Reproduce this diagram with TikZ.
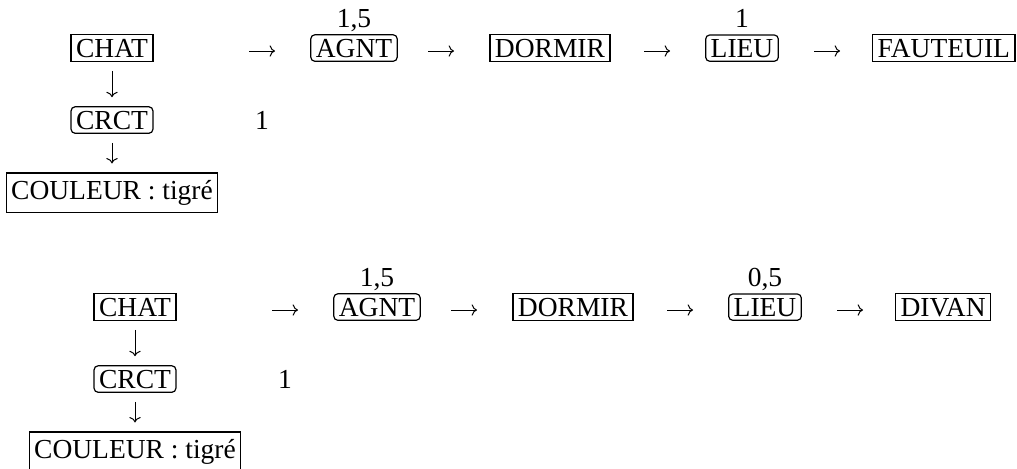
\documentclass[tikz,border=0pt]{standalone}
\usepackage{fontspec}
\setmainfont{Liberation Serif}
\usetikzlibrary{arrows.meta}
\begin{document}
\begin{tikzpicture}[x=0.5pt,y=-0.5pt,
  every node/.style={font=\fontsize{13.75}{16}\selectfont, inner sep=0pt},
  sqbox/.style={draw, line width=0.6pt, inner xsep=2.5pt, inner ysep=2pt, anchor=base},
  rbox/.style={sqbox, rounded corners=2pt},
  tallbox/.style={sqbox, text height=11pt, text depth=4.6pt},
  lbl/.style={anchor=base},
  harr/.style={line width=0.5pt, -{Computer Modern Rightarrow}},
  varr/.style={harr, shorten <=4.5pt, shorten >=4.5pt},
]
\useasboundingbox (0,0) rectangle (1017,468);

% ---------- first graph ----------
\node[sqbox]   (chatA) at (112,57) {CHAT};
\node[rbox]    (crctA) at (112,129) {CRCT};
\node[tallbox] (coulA) at (112,199) {COULEUR : tigré};
\node[lbl]     (oneA)  at (262,129) {1};
\node[rbox]    (agntA) at (354,57) {AGNT};
\node[lbl]     (wagA)  at (354,27) {1,5};
\node[sqbox]   (dormA) at (550,57) {DORMIR};
\node[rbox]    (lieuA) at (742,57) {LIEU};
\node[lbl]     (wliA)  at (742,27) {1};
\node[sqbox, anchor=base west] (fautA) at (872,57) {FAUTEUIL};

\coordinate (hA1s) at (249,51); \coordinate (hA1e) at (275,51);
\coordinate (hA2s) at (428,51); \coordinate (hA2e) at (454,51);
\coordinate (hA3s) at (644,51); \coordinate (hA3e) at (670,51);
\coordinate (hA4s) at (814,51); \coordinate (hA4e) at (840,51);
\draw[harr] (hA1s) -- (hA1e);
\draw[harr] (hA2s) -- (hA2e);
\draw[harr] (hA3s) -- (hA3e);
\draw[harr] (hA4s) -- (hA4e);
\draw[varr] (chatA) -- (crctA);
\draw[varr] (crctA) -- (coulA);

% ---------- second graph ----------
\begin{scope}[shift={(23,259)}]
\node[sqbox]   (chatB) at (112,57) {CHAT};
\node[rbox]    (crctB) at (112,129) {CRCT};
\node[tallbox] (coulB) at (112,199) {COULEUR : tigré};
\node[lbl]     (oneB)  at (262,129) {1};
\node[rbox]    (agntB) at (354,57) {AGNT};
\node[lbl]     (wagB)  at (354,27) {1,5};
\node[sqbox]   (dormB) at (550,57) {DORMIR};
\node[rbox]    (lieuB) at (742,57) {LIEU};
\node[lbl]     (wliB)  at (742,27) {0,5};
\node[sqbox, anchor=base west] (divB) at (872,57) {DIVAN};

\coordinate (hB1s) at (249,51); \coordinate (hB1e) at (275,51);
\coordinate (hB2s) at (428,51); \coordinate (hB2e) at (454,51);
\coordinate (hB3s) at (644,51); \coordinate (hB3e) at (670,51);
\coordinate (hB4s) at (814,51); \coordinate (hB4e) at (840,51);
\draw[harr] (hB1s) -- (hB1e);
\draw[harr] (hB2s) -- (hB2e);
\draw[harr] (hB3s) -- (hB3e);
\draw[harr] (hB4s) -- (hB4e);
\draw[varr] (chatB) -- (crctB);
\draw[varr] (crctB) -- (coulB);
\end{scope}
\end{tikzpicture}
\end{document}
